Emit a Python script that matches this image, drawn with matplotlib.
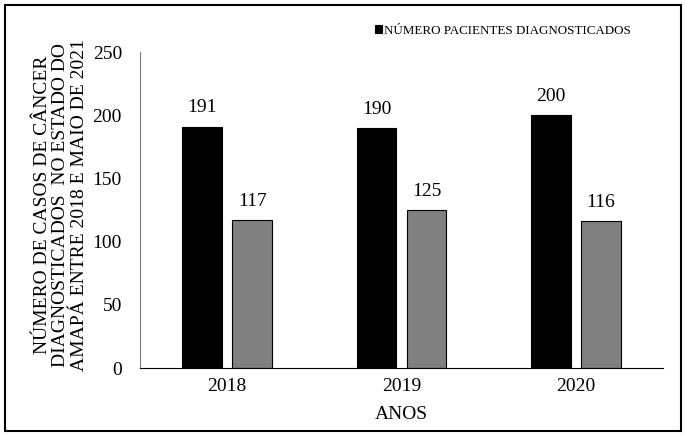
import matplotlib.pyplot as plt
import numpy as np
from matplotlib.patches import Rectangle

plt.rcParams['font.family'] = ['Liberation Serif', 'DejaVu Serif']

# data
anos = ['2018', '2019', '2020']
diagnosticados = [191, 190, 200]
segunda_serie = [117, 125, 116]

fig = plt.figure(figsize=(6.86, 4.36), dpi=100)
ax = fig.add_axes([140 / 686, 1 - 368 / 436, 523 / 686, 316 / 436])

x = np.arange(len(anos))
w = 0.228
b1 = ax.bar(x - 0.143, diagnosticados, w, color='black', edgecolor='black',
            linewidth=0.8, label='NÚMERO PACIENTES DIAGNOSTICADOS')
b2 = ax.bar(x + 0.143, segunda_serie, w, color='#808080', edgecolor='black',
            linewidth=0.8)

for bars in (b1, b2):
    for r in bars:
        ax.text(r.get_x() + r.get_width() / 2, r.get_height() + 8,
                f'{int(r.get_height())}', ha='center', va='bottom', fontsize=14)

ax.set_xlim(-0.5, 2.5)
ax.set_ylim(0, 250)
ax.set_yticks(range(0, 251, 50))
ax.set_xticks(x)
ax.set_xticklabels(anos)
ax.tick_params(axis='both', length=0, labelsize=14, pad=7)
ax.tick_params(axis='y', pad=13)
for s in ('top', 'right'):
    ax.spines[s].set_visible(False)
ax.spines['left'].set_color('#808080')
ax.spines['bottom'].set_color('black')

ax.set_xlabel('ANOS', fontsize=14, labelpad=8)
ax.set_ylabel('NÚMERO DE CASOS DE CÂNCER\nDIAGNOSTICADOS  NO ESTADO DO\nAMAPÁ ENTRE 2018 E MAIO DE 2021',
              fontsize=14, linespacing=1.1)
ax.yaxis.set_label_coords(-0.1, 0.515)

ax.legend(loc='upper left', bbox_to_anchor=(368 / 686, 1 - 18 / 436),
          bbox_transform=fig.transFigure, frameon=False, fontsize=9.4,
          handlelength=0.6, handleheight=0.6, handletextpad=0.1, borderpad=0)

fig.patches.append(Rectangle((5 / 686, 5 / 436), 676 / 686, 426 / 436,
                             transform=fig.transFigure, fill=False,
                             edgecolor='black', linewidth=1.5))

plt.savefig('out.png', dpi=100)
